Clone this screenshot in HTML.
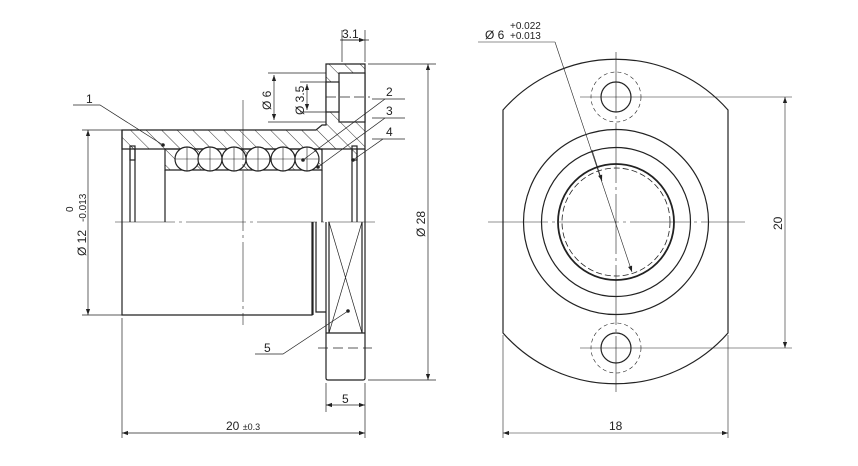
<!DOCTYPE html>
<html><head><meta charset="utf-8"><style>
html,body{margin:0;padding:0;background:#fff}
svg{display:block}
text{font-family:"Liberation Sans",sans-serif;fill:#222}
</style></head><body>
<svg width="858" height="466" viewBox="0 0 858 466" xmlns="http://www.w3.org/2000/svg">
<defs>
<pattern id="h" patternUnits="userSpaceOnUse" width="11" height="11" patternTransform="rotate(-45)">
<line x1="0" y1="0" x2="0" y2="11" stroke="#222" stroke-width="0.9"/>
</pattern>
<marker id="a" viewBox="0 0 10 10" refX="10" refY="5" markerWidth="10" markerHeight="6" orient="auto-start-reverse" markerUnits="userSpaceOnUse">
<path d="M0,1.5 L10,5 L0,8.5 z" fill="#222"/>
</marker>
</defs>
<g fill="none" stroke="#222" stroke-width="1.2">
<path d="M122,130 L316,130 L322,125 L326,125 L326,64 L365,64 L365,149 L122,149 Z" fill="url(#h)"/>
<rect x="339" y="73" width="26" height="49" fill="#fff" stroke="#222"/>
<rect x="326" y="82" width="13" height="30" fill="#fff" stroke="#222"/>
<line x1="326" y1="97" x2="370" y2="97" stroke-dasharray="10,4" stroke-width="0.7"/>
<path d="M165,149 L322,149 L322,170 L165,170 Z" fill="url(#h)"/>
<g fill="#fff">
<circle cx="187" cy="159" r="12"/><circle cx="210" cy="159" r="12"/><circle cx="234" cy="159" r="12"/>
<circle cx="258" cy="159" r="12"/><circle cx="283" cy="159" r="12"/><circle cx="307" cy="159" r="12"/>
</g>
<g stroke-width="0.6">
<path d="M175,159h24M187,147v24M198,159h24M210,147v24M222,159h24M234,147v24M246,159h24M258,147v24M271,159h24M283,147v24M295,159h24M307,147v24"/>
</g>
<path d="M122,130 L122,315 L312,315 L312,222"/>
<path d="M316,222 L316,312 L326,312"/>
<line x1="313" y1="222" x2="313" y2="315"/>
<line x1="130" y1="149" x2="130" y2="222"/><line x1="135" y1="149" x2="135" y2="222"/>
<line x1="165" y1="170" x2="165" y2="222"/><line x1="322" y1="170" x2="322" y2="222"/>
<line x1="352" y1="149" x2="352" y2="222"/><line x1="357" y1="149" x2="357" y2="222"/>
<rect x="130" y="146" width="5" height="14" fill="url(#h)"/>
<rect x="352" y="146" width="5" height="14" fill="url(#h)"/>
<line x1="365" y1="149" x2="365" y2="222"/>
<path d="M326,222 L326,378 Q326,380 328,380 L363,380 Q365,380 365,378 L365,222"/>
<line x1="329" y1="222" x2="329" y2="333"/><line x1="362" y1="222" x2="362" y2="333"/>
<line x1="326" y1="333" x2="365" y2="333"/>
<path d="M329,222 L362,333 M362,222 L329,333" stroke-width="0.7"/>
<line x1="318" y1="348" x2="372" y2="348" stroke-dasharray="10,5" stroke-width="0.7"/>
<line x1="115" y1="222" x2="375" y2="222" stroke-width="0.6" stroke-dasharray="60,4,3,4"/>
<line x1="243" y1="100" x2="243" y2="325" stroke-width="0.6" stroke-dasharray="60,4,3,4"/>
<g stroke-width="0.7">
<line x1="342" y1="30" x2="342" y2="62"/><line x1="365" y1="30" x2="365" y2="62"/>
<line x1="340" y1="40" x2="365" y2="40" marker-end="url(#a)"/><line x1="369" y1="40" x2="342" y2="40"/>
<line x1="268" y1="73" x2="326" y2="73"/><line x1="268" y1="122" x2="326" y2="122"/>
<line x1="274" y1="75" x2="274" y2="120" marker-start="url(#a)" marker-end="url(#a)"/>
<line x1="300" y1="82" x2="326" y2="82"/><line x1="300" y1="112" x2="326" y2="112"/>
<line x1="307" y1="84" x2="307" y2="110" marker-start="url(#a)" marker-end="url(#a)"/>
<line x1="368" y1="64" x2="436" y2="64"/><line x1="368" y1="380" x2="436" y2="380"/>
<line x1="428" y1="64" x2="428" y2="380" marker-start="url(#a)" marker-end="url(#a)"/>
<line x1="82" y1="130" x2="122" y2="130"/><line x1="82" y1="315" x2="122" y2="315"/>
<line x1="88" y1="130" x2="88" y2="315" marker-start="url(#a)" marker-end="url(#a)"/>
<line x1="122" y1="318" x2="122" y2="438"/><line x1="365" y1="383" x2="365" y2="438"/>
<line x1="326" y1="383" x2="326" y2="412"/>
<line x1="122" y1="433" x2="365" y2="433" marker-start="url(#a)" marker-end="url(#a)"/>
<line x1="326" y1="405" x2="365" y2="405" marker-start="url(#a)" marker-end="url(#a)"/>
<path d="M73,105 L100,105 L163,145"/>
<path d="M372,99 L405,99"/><path d="M385,99 L303,160"/>
<path d="M372,118 L405,118"/><path d="M385,118 L318,167"/>
<path d="M372,139 L405,139"/><path d="M383,139 L353,160"/>
<path d="M255,354 L283,354 L348,311"/>
</g>
<g fill="#222" stroke="none">
<circle cx="163" cy="145" r="1.8"/><circle cx="303" cy="160" r="1.8"/><circle cx="318" cy="167" r="1.8"/><circle cx="353" cy="160" r="1.8"/><circle cx="348" cy="311" r="1.8"/>
</g>
<path d="M503,110 A150,150 0 0 1 728,110 L728,333 A150,150 0 0 1 503,333 Z"/>
<circle cx="616" cy="222" r="92.5"/>
<circle cx="616" cy="222" r="74.5"/>
<circle cx="616" cy="222" r="58" stroke-width="1.8"/>
<circle cx="616" cy="222" r="54" stroke-width="0.8" stroke-dasharray="6,3"/>
<circle cx="616" cy="97" r="15"/><circle cx="616" cy="97" r="25" stroke-width="0.6" stroke-dasharray="4,3"/>
<circle cx="616" cy="348" r="15"/><circle cx="616" cy="348" r="25" stroke-width="0.6" stroke-dasharray="4,3"/>
<g stroke-width="0.6">
<line x1="488" y1="222" x2="745" y2="222" stroke-dasharray="60,4,3,4"/>
<line x1="616" y1="52" x2="616" y2="392" stroke-dasharray="60,4,3,4"/>
<line x1="580" y1="97" x2="792" y2="97"/><line x1="580" y1="348" x2="792" y2="348"/>
<line x1="785" y1="97" x2="785" y2="348" marker-start="url(#a)" marker-end="url(#a)"/>
<line x1="503" y1="335" x2="503" y2="438"/><line x1="728" y1="335" x2="728" y2="438"/>
<line x1="503" y1="433" x2="728" y2="433" marker-start="url(#a)" marker-end="url(#a)"/>
<line x1="478" y1="42" x2="555" y2="42"/>
<line x1="555" y1="42" x2="632" y2="272" marker-end="url(#a)"/>
<line x1="592" y1="150" x2="602" y2="181" marker-end="url(#a)"/>
</g>
</g>
<g font-size="12">
<text x="342" y="38">3.1</text>
<text x="86" y="103">1</text>
<text x="386" y="96">2</text>
<text x="386" y="115">3</text>
<text x="386" y="136">4</text>
<text x="264" y="352">5</text>
<text x="342" y="403">5</text>
<text x="226" y="430">20 <tspan font-size="9">±0.3</tspan></text>
<text x="609" y="430">18</text>
<text transform="translate(271,110) rotate(-90)">Ø 6</text>
<text transform="translate(304,115) rotate(-90)">Ø 3.5</text>
<text transform="translate(425,237) rotate(-90)">Ø 28</text>
<text transform="translate(86,256) rotate(-90)">Ø 12</text>
<text transform="translate(86,222) rotate(-90)" font-size="10">-0.013</text>
<text transform="translate(73,212) rotate(-90)" font-size="10">0</text>
<text transform="translate(782,230) rotate(-90)">20</text>
<text x="485" y="39">Ø 6</text>
<text x="510" y="29" font-size="10">+0.022</text>
<text x="510" y="39" font-size="10">+0.013</text>
</g>
</svg>
</body></html>
